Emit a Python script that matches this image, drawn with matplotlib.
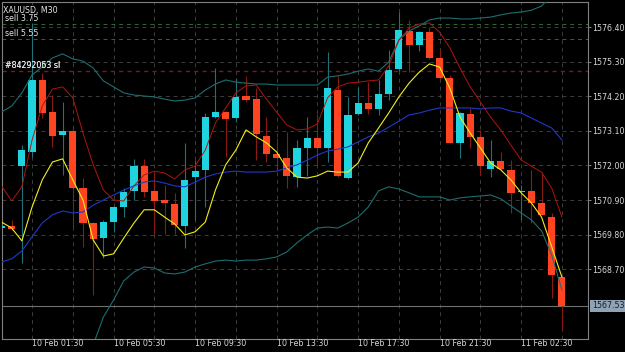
import matplotlib
matplotlib.use("Agg")
import matplotlib.pyplot as plt
import matplotlib.transforms as mtransforms
import numpy as np

# XAUUSD M30 candles, 10 Feb 00:00 .. 11 Feb 04:30
opens = [1570.00, 1570.08, 1571.99, 1572.44, 1574.72, 1573.70, 1572.97, 1573.10, 1571.28, 1570.17,
         1569.69, 1570.20, 1570.68, 1571.19, 1571.98, 1571.19, 1570.90, 1570.78, 1570.08, 1571.63,
         1571.86, 1573.54, 1573.70, 1573.51, 1574.21, 1574.11, 1572.94, 1572.37, 1572.24, 1571.63,
         1572.56, 1572.87, 1572.56, 1574.40, 1571.60, 1573.64, 1573.99, 1573.80, 1574.27, 1575.07,
         1576.28, 1575.83, 1576.24, 1575.42, 1574.78, 1572.72, 1573.64, 1572.91, 1571.89, 1572.14,
         1571.86, 1571.16, 1571.19, 1570.81, 1570.36, 1568.45]
highs = [1570.09, 1570.27, 1572.65, 1576.53, 1574.94, 1574.24, 1574.02, 1573.19, 1571.60, 1570.20,
         1570.27, 1570.71, 1571.28, 1572.21, 1572.21, 1571.79, 1571.38, 1571.13, 1572.72, 1572.17,
         1573.67, 1575.10, 1573.73, 1574.78, 1574.85, 1574.46, 1573.54, 1572.87, 1573.07, 1572.81,
         1573.54, 1573.64, 1575.61, 1574.85, 1574.18, 1574.50, 1574.65, 1574.72, 1575.67, 1576.88,
         1576.63, 1576.28, 1576.40, 1575.70, 1574.88, 1573.70, 1573.83, 1573.13, 1572.81, 1572.43,
         1572.17, 1571.38, 1571.86, 1571.76, 1570.49, 1568.48]
lows = [1569.96, 1569.95, 1568.91, 1572.27, 1573.51, 1572.59, 1571.70, 1570.01, 1569.41, 1567.88,
        1569.06, 1569.89, 1570.36, 1570.90, 1571.00, 1569.82, 1569.82, 1569.82, 1569.38, 1570.27,
        1570.68, 1573.51, 1572.27, 1573.38, 1574.02, 1572.17, 1572.11, 1571.86, 1571.28, 1571.32,
        1571.67, 1571.95, 1572.11, 1571.63, 1571.57, 1573.61, 1573.64, 1573.61, 1574.08, 1575.00,
        1574.97, 1575.64, 1575.39, 1574.75, 1572.70, 1572.24, 1572.56, 1571.70, 1571.63, 1571.86,
        1570.49, 1570.27, 1570.17, 1570.43, 1567.79, 1566.77]
closes = [1570.06, 1569.98, 1572.49, 1574.72, 1573.67, 1572.94, 1573.10, 1571.28, 1570.17, 1569.66,
          1570.20, 1570.68, 1571.16, 1571.98, 1571.16, 1570.87, 1570.81, 1570.11, 1571.54, 1571.82,
          1573.54, 1573.70, 1573.48, 1574.18, 1574.08, 1573.00, 1572.37, 1572.24, 1571.67, 1572.56,
          1572.87, 1572.56, 1574.46, 1571.67, 1573.61, 1573.99, 1573.80, 1574.27, 1575.04, 1576.31,
          1575.83, 1576.24, 1575.42, 1574.78, 1572.72, 1573.67, 1572.91, 1571.98, 1572.14, 1571.89,
          1571.13, 1571.19, 1570.81, 1570.43, 1568.52, 1567.53]

# indicator lines
ma_fast = [1570.20, 1570.01, 1569.60, 1570.68, 1571.54, 1572.11, 1572.21, 1571.54, 1570.90, 1569.63,
           1569.12, 1569.19, 1569.69, 1570.17, 1570.59, 1570.59, 1570.36, 1570.14, 1569.79, 1569.89,
           1570.20, 1571.22, 1572.02, 1572.49, 1573.13, 1572.91, 1572.72, 1572.43, 1571.92, 1571.63,
           1571.60, 1571.67, 1571.82, 1571.79, 1571.79, 1572.08, 1572.72, 1573.19, 1573.67, 1574.18,
           1574.62, 1574.97, 1575.23, 1575.13, 1574.46, 1573.54, 1573.03, 1572.56, 1572.08, 1571.86,
           1571.54, 1571.13, 1570.81, 1570.36, 1569.41, 1568.45]
ma_high = [1571.35, 1570.87, 1571.32, 1572.81, 1573.89, 1574.43, 1574.50, 1574.15, 1573.03, 1572.02,
           1571.22, 1570.90, 1570.87, 1571.35, 1571.70, 1571.82, 1571.76, 1571.57, 1571.86, 1571.98,
           1572.49, 1573.35, 1573.83, 1574.31, 1574.53, 1574.56, 1574.11, 1573.70, 1573.29, 1573.13,
           1573.16, 1573.32, 1574.15, 1574.50, 1574.62, 1574.65, 1574.69, 1574.72, 1575.16, 1575.99,
           1576.37, 1576.50, 1576.53, 1576.24, 1575.74, 1575.10, 1574.50, 1574.02, 1573.54, 1573.13,
           1572.65, 1572.17, 1571.98, 1571.79, 1571.28, 1570.36]
bb_mid = [1568.93, 1569.03, 1569.28, 1569.73, 1570.17, 1570.43, 1570.55, 1570.49, 1570.52, 1570.74,
          1570.90, 1571.06, 1571.22, 1571.35, 1571.47, 1571.51, 1571.44, 1571.35, 1571.32, 1571.47,
          1571.63, 1571.73, 1571.79, 1571.82, 1571.79, 1571.79, 1571.79, 1571.82, 1571.92, 1572.02,
          1572.17, 1572.33, 1572.46, 1572.52, 1572.59, 1572.75, 1572.91, 1573.03, 1573.22, 1573.41,
          1573.61, 1573.67, 1573.76, 1573.83, 1573.83, 1573.83, 1573.83, 1573.80, 1573.83, 1573.83,
          1573.73, 1573.67, 1573.51, 1573.35, 1573.19, 1572.81]
bb_upper = [1573.70, 1573.89, 1574.31, 1574.88, 1575.13, 1575.42, 1575.55, 1575.39, 1575.32, 1575.10,
            1574.69, 1574.50, 1574.31, 1574.24, 1574.21, 1574.18, 1574.11, 1574.05, 1574.08, 1574.15,
            1574.40, 1574.59, 1574.72, 1574.65, 1574.62, 1574.59, 1574.59, 1574.56, 1574.56, 1574.56,
            1574.56, 1574.56, 1574.81, 1574.85, 1574.91, 1575.00, 1575.07, 1575.00, 1575.29, 1575.99,
            1576.28, 1576.44, 1576.63, 1576.69, 1576.69, 1576.66, 1576.66, 1576.69, 1576.72, 1576.79,
            1576.85, 1576.88, 1576.94, 1577.07, 1577.42, 1577.74]
bb_lower = [1564.16, 1564.16, 1564.26, 1564.58, 1565.21, 1565.43, 1565.56, 1565.59, 1565.72, 1566.29,
            1567.18, 1567.72, 1568.33, 1568.61, 1568.77, 1568.74, 1568.58, 1568.55, 1568.61, 1568.77,
            1568.87, 1568.96, 1568.99, 1568.96, 1568.99, 1568.99, 1569.03, 1569.09, 1569.25, 1569.54,
            1569.79, 1570.01, 1570.04, 1570.01, 1570.17, 1570.36, 1570.68, 1571.19, 1571.32, 1571.25,
            1571.13, 1571.00, 1571.00, 1571.00, 1570.90, 1570.97, 1571.00, 1571.03, 1571.06, 1570.94,
            1570.71, 1570.49, 1570.27, 1569.92, 1569.15, 1568.04]

time_labels = ["10 Feb 01:30", "10 Feb 05:30", "10 Feb 09:30", "10 Feb 13:30",
               "10 Feb 17:30", "10 Feb 21:30", "11 Feb 02:30"]
label_bars = [3, 11, 19, 27, 35, 43, 51]
price_ticks = [1568.70, 1569.80, 1570.90, 1572.00, 1573.10, 1574.20, 1575.30, 1576.40]

order_lines = [1576.51, 1576.02, 1575.01]
order_texts = ["sell 3.75", "sell 5.55", "#84292053 sl"]
bid = 1567.53

o = np.array(opens)
h = np.array(highs)
l = np.array(lows)
c = np.array(closes)
x = np.arange(len(o))
up = c >= o

FS = 5.7
fig = plt.figure(figsize=(6.25, 3.52), dpi=100, facecolor="black")
ax = fig.add_axes([2 / 625, 13 / 352, 586 / 625, 337 / 352])
ax.set_facecolor("black")
ax.set_xlim(0.05, 57.56)
ax.set_ylim(1566.48, 1577.20)

grid_style = dict(color="#3d3d3d", lw=0.7, ls=(0, (4, 4)), zorder=0)
for p in price_ticks:
    ax.axhline(p, **grid_style)
for b in range(3, len(x) + 2, 4):
    ax.axvline(b, **grid_style)

# candles
ax.vlines(x[up], l[up], h[up], color="#1f7078", lw=0.8, zorder=2)
ax.vlines(x[~up], l[~up], h[~up], color="#8a1a12", lw=0.8, zorder=2)
body = np.maximum(np.abs(c - o), 0.03)
ax.bar(x[up], body[up], bottom=o[up], width=0.7, color="#1fd3df", zorder=3)
ax.bar(x[~up], body[~up], bottom=c[~up], width=0.7, color="#ff4421", zorder=3)

# indicators
ax.plot(x, bb_upper, color="#1d6e70", lw=0.8, zorder=4)
ax.plot(x, bb_lower, color="#1d6e70", lw=0.8, zorder=4)
ax.plot(x, bb_mid, color="#2038c8", lw=0.8, zorder=4)
ax.plot(x, ma_high, color="#b3140f", lw=0.7, zorder=4)
ax.plot(x, ma_fast, color="#f2ef1a", lw=0.8, zorder=5)

# order levels
ax.axhline(order_lines[0], color="#2d6a2d", lw=0.7, ls=(0, (4, 4)), zorder=1)
ax.axhline(order_lines[1], color="#2d6a2d", lw=0.7, ls=(0, (4, 4)), zorder=1)
ax.axhline(order_lines[2], color="#7a1a1a", lw=1.0, ls=(0, (3, 3)), zorder=1)
trans = mtransforms.blended_transform_factory(ax.transAxes, ax.transData)
for p, s in zip(order_lines, order_texts):
    ax.annotate(s, (0, p), xycoords=trans, xytext=(2.3, 2.0), textcoords="offset points",
                color="#e6e6e6", fontsize=FS, va="baseline", ha="left", zorder=6)
ax.annotate("#84292063 sl", (0, order_lines[2]), xycoords=trans, xytext=(2.3, 2.0),
            textcoords="offset points", color="#e6e6e6", fontsize=FS, va="baseline", zorder=6)
ax.text(1 / 586, 0.975, "XAUUSD, M30", transform=ax.transAxes, color="#e6e6e6",
        fontsize=FS, va="center", ha="left")

# bid line and label
ax.axhline(bid, color="#6f6f6f", lw=0.8, zorder=1)
ax.text(1 + 4 / 586, bid, "1567.53", transform=trans, color="#1a1a22", fontsize=FS,
        va="center", ha="left", clip_on=False,
        bbox=dict(boxstyle="square,pad=0.2", fc="#8fa3b5", ec="none"))

# axes labels
ax.set_yticks(price_ticks)
ax.set_yticklabels(["%.2f" % p for p in price_ticks])
ax.yaxis.tick_right()
ax.tick_params(axis="y", colors="#808080", labelcolor="#d8d8d8", labelsize=FS,
               length=2, width=0.7, pad=0.8)
ax.set_xticks([])
ax_trans = mtransforms.blended_transform_factory(ax.transData, ax.transAxes)
for b, s in zip(label_bars, time_labels):
    ax.text(b, -4.8 / 337, s, transform=ax_trans, color="#d8d8d8", fontsize=FS,
            ha="left", va="center", clip_on=False)

for sp in ax.spines.values():
    sp.set_color("#808080")
    sp.set_linewidth(0.8)

fig.savefig("out.png", dpi=100, facecolor="black")
